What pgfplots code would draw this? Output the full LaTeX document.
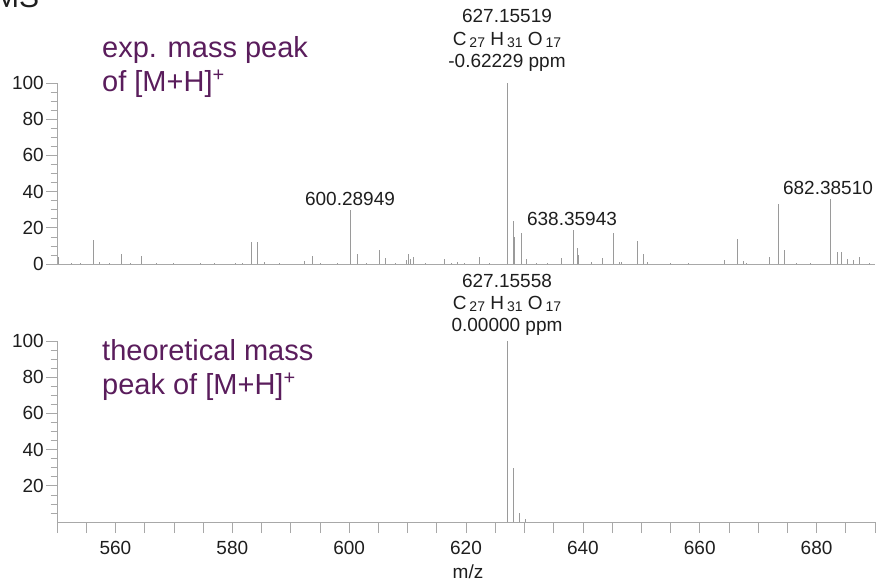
\documentclass[border=0pt]{standalone}
\usepackage{fontspec}
\setmainfont{Liberation Sans}
\usepackage{pgfplots}
\pgfplotsset{compat=1.18}
\definecolor{pk}{HTML}{9A9A9A}
\definecolor{ax}{HTML}{A8A8A8}
\definecolor{tx}{HTML}{1E1E1E}
\definecolor{pu}{HTML}{5A1D5C}
\newcommand\sub[1]{\raisebox{-2.5pt}{\fontsize{14}{14}\selectfont #1}}
\newcommand\sups{\raisebox{10pt}{\fontsize{20}{20}\selectfont +}}
\pgfplotsset{ms/.style={
  scale only axis, width=818pt, height=181pt, anchor=south west,
  xmin=550, xmax=690, ymin=0, ymax=100,
  axis x line*=bottom, axis y line*=left,
  axis line style={-, draw=ax, line width=0.7pt},
  every outer x axis line/.append style={-},
  every outer y axis line/.append style={-},
  tick align=outside, major tick length=11pt, minor tick length=6.5pt,
  tick style={draw=ax, line width=0.7pt},
  minor ytick={5,10,15,25,30,35,45,50,55,65,70,75,85,90,95},
  ticklabel style={font=\fontsize{19}{19}\selectfont, text=tx},
  /pgf/number format/assume math mode=true,
  yticklabel style={inner sep=2pt},
  xticklabel style={yshift=-5pt},
  clip=false,
}}
\pgfplotstableread{
mz int
550.3 4
552.5 0.8
554.0 0.5
556.2 13
557.2 1
559.0 0.6
561.1 5.5
562.5 0.5
564.4 4.5
567.0 0.4
570.0 0.3
574.5 0.5
577.0 0.3
580.5 0.8
581.8 0.6
583.3 12
584.3 12
585.5 1.2
588.0 0.5
592.3 1.6
593.7 4.4
595.0 0.6
598.0 0.5
600.29 30
601.4 5.5
603.0 0.6
605.2 7.7
606.2 3.3
608.0 0.5
609.8 2
610.2 5.5
610.5 3
611.0 4
613.0 0.5
616.3 2.5
617.5 0.8
618.6 1
619.8 0.8
622.3 4
624.0 0.6
627.155 100
628.16 23.6
628.35 15
629.4 17
630.4 3
632.0 0.6
634.0 0.5
636.4 3.3
638.36 19
639.1 9
639.3 5
641.4 1
643.4 3.3
645.3 17
646.2 1
646.6 1
649.3 12.6
650.3 5.5
651.0 1
655.0 0.4
658.0 0.4
664.3 2
666.4 13.7
667.4 1.5
668.0 0.8
671.9 4
673.4 33
674.5 7.7
676.6 0.8
679.0 0.5
682.39 36
683.5 6.5
684.2 6.5
685.3 2.5
686.3 2
687.3 4
689.0 0.5
}\expdata
\pgfplotstableread{
mz int
627.156 100
628.159 30
629.16 5
630.16 1.4
}\thdata
\begin{document}
\begin{tikzpicture}
\begin{axis}[ms, at={(57pt,-264pt)}, ytick={0,20,...,100}, xtick=\empty]
  \addplot[ycomb, draw=pk, line width=0.8pt, mark=none] table[x=mz,y=int] {\expdata};
\end{axis}
\begin{axis}[ms, at={(57pt,-522pt)}, ytick={20,40,...,100},
  xtick={550,555,...,690},
  xticklabels={,,560,,,,580,,,,600,,,,620,,,,640,,,,660,,,,680,,}]
  \addplot[ycomb, draw=pk, line width=0.8pt, mark=none] table[x=mz,y=int] {\thdata};
\end{axis}
\tikzset{lab/.style={anchor=base, inner sep=0pt, font=\fontsize{19}{19}\selectfont, text=tx},
         big/.style={anchor=base west, inner sep=0pt, font=\fontsize{29}{29}\selectfont, text=pu}}
% top annotations
\node[lab] at (507pt,-22pt) {627.15519};
\node[lab] at (507pt,-45pt) {C\hspace{3pt}\sub{27} H\hspace{3pt}\sub{31} O\hspace{3pt}\sub{17}};
\node[lab] at (507pt,-67pt) {-0.62229 ppm};
\node[lab] at (350pt,-205pt) {600.28949};
\node[lab] at (572pt,-225pt) {638.35943};
\node[lab] at (828pt,-194pt) {682.38510};
% bottom annotations
\node[lab] at (507pt,-287pt) {627.15558};
\node[lab] at (507pt,-309pt) {C\hspace{3pt}\sub{27} H\hspace{3pt}\sub{31} O\hspace{3pt}\sub{17}};
\node[lab] at (507pt,-331pt) {0.00000 ppm};
\node[lab] at (468pt,-578pt) {m/z};
% purple labels
\node[big] at (102pt,-57pt) {exp. mass peak};
\node[big] at (102pt,-91pt) {of [M+H]\sups};
\node[big] at (102pt,-360pt) {theoretical mass};
\node[big] at (102pt,-394pt) {peak of [M+H]\sups};
\node[anchor=base west, inner sep=0pt, font=\fontsize{30}{30}\selectfont, text=tx] at (-6pt,-7pt) {MS};
\pgfresetboundingbox
\useasboundingbox (0pt,0pt) rectangle (877pt,-582pt);
\end{tikzpicture}
\end{document}
